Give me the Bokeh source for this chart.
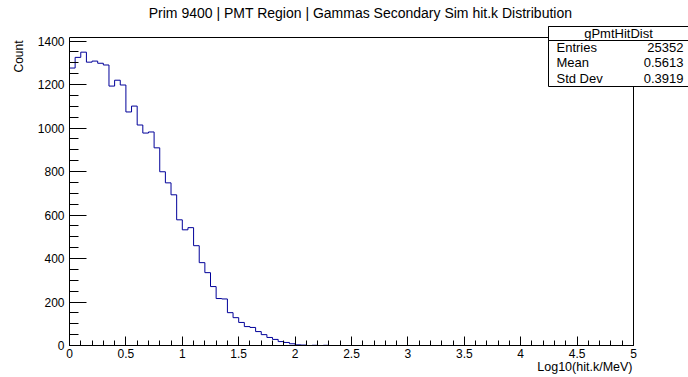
import math
import numpy as np
from bokeh.plotting import figure
from bokeh.models import (Label, BoxAnnotation, SingleIntervalTicker, CustomJSTickFormatter,
                          Range1d, LinearAxis, FixedTicker)
from bokeh.embed import file_html
from bokeh.resources import INLINE

# ---- data ----
title_text = "Prim 9400 | PMT Region | Gammas Secondary Sim hit.k Distribution"
x_label = "Log10(hit.k/MeV)"
y_label = "Count"
hist_name = "gPmtHitDist"
x_min, x_max, n_bins = 0.0, 5.0, 100
counts = [
    1276, 1325, 1349, 1303, 1308, 1298, 1290, 1193, 1220, 1198,
    1074, 1101, 1014, 977, 982, 909, 799, 748, 693, 578,
    532, 542, 459, 381, 335, 271, 216, 214, 151, 128,
    106, 87, 83, 64, 50, 37, 28, 18, 14, 8,
    3, 2, 0, 1, 0, 1, 0, 0, 0, 0,
    0, 0, 0, 0, 0, 0, 0, 0, 0, 0,
    0, 0, 0, 0, 0, 0, 0, 0, 0, 0,
    0, 0, 0, 0, 0, 0, 0, 0, 0, 0,
    0, 0, 0, 0, 0, 0, 0, 0, 0, 0,
    0, 0, 0, 0, 0, 0, 0, 0, 0, 0,
]
stat_names = ["Entries", "Mean", "Std Dev"]
stat_values = ["25352", "0.5613", "0.3919"]

FONT = "Liberation Sans"
W, H = 688, 377
FL, FR, FT, FB = 69, 633, 37, 345  # visible axes box edges in canvas px

edges = np.linspace(x_min, x_max, n_bins + 1)
ymax = max(counts) * 1.05

# the plotting frame covers the whole canvas; axes are pinned at the data edges
xs = (FR - FL) / (x_max - x_min)
ys = (FB - FT) / ymax
x_range = Range1d(x_min - FL / xs, x_max + (W - FR) / xs)
y_range = Range1d(0 - (H - FB) / ys, ymax + FT / ys)

p = figure(width=W, height=H, output_backend="svg", toolbar_location=None,
           x_range=x_range, y_range=y_range,
           x_axis_location=None, y_axis_location=None,
           min_border=0, title=None)
p.background_fill_color = "white"
p.border_fill_color = "white"
p.outline_line_color = None
p.xgrid.visible = False
p.ygrid.visible = False

p.step(x=list(edges), y=counts + [counts[-1]], mode="after",
       line_color="#000099", line_width=1)

fmt = CustomJSTickFormatter(code="return String(Math.round(tick*100)/100);")

xa = LinearAxis(fixed_location=0, bounds=(x_min, x_max),
                ticker=SingleIntervalTicker(interval=0.5, num_minor_ticks=5),
                formatter=fmt)
xa.major_tick_in = 9
xa.major_tick_out = 0
xa.minor_tick_in = 5
xa.minor_tick_out = 0
xa.major_label_standoff = 3
ya = LinearAxis(fixed_location=x_min, bounds=(0, ymax),
                ticker=SingleIntervalTicker(interval=200, num_minor_ticks=4),
                formatter=fmt)
ya.major_tick_in = 17
ya.major_tick_out = 0
ya.minor_tick_in = 9
ya.minor_tick_out = 0
ya.major_label_standoff = 5
for ax in (xa, ya):
    ax.axis_line_color = "black"
    ax.major_tick_line_color = "black"
    ax.minor_tick_line_color = "black"
    ax.major_label_text_font = FONT
    ax.major_label_text_font_size = "12px"
    ax.major_label_text_color = "black"
p.add_layout(xa, "below")
p.add_layout(ya, "left")

# plain top and right edges of the axes box
for loc, side, bnds in ((ymax, "above", (x_min, x_max)), (x_max, "right", (0, ymax))):
    ax = LinearAxis(fixed_location=loc, bounds=bnds, ticker=FixedTicker(ticks=[]))
    ax.axis_line_color = "black"
    ax.major_tick_line_color = None
    ax.minor_tick_line_color = None
    ax.major_label_text_alpha = 0
    p.add_layout(ax, side)

def sx(cx):
    return cx

def sy(cy):
    return H - cy

def lab(text, cx, cy, align="left", size="12px", angle=0.0):
    p.add_layout(Label(x=sx(cx), y=sy(cy), x_units="screen", y_units="screen",
                       text=text, text_align=align, text_baseline="middle",
                       text_font=FONT, text_font_size=size, text_color="black",
                       angle=angle, level="overlay"))

lab(title_text, 360, 12, "center", "14px")
lab(x_label, 632, 366, "right", "12.5px")
lab(y_label, 18, 40, "right", "12px", math.pi / 2)

# stats box
for top, bottom in ((26, 86), (26, 40)):
    p.add_layout(BoxAnnotation(left=sx(548), right=sx(688), top=sy(top), bottom=sy(bottom),
                               left_units="screen", right_units="screen",
                               top_units="screen", bottom_units="screen",
                               fill_color="white", fill_alpha=1.0,
                               line_color="black", line_alpha=1.0, line_width=1,
                               level="overlay"))
lab(hist_name, 618, 33, "center", "13px")
row_y = [47, 62, 78]
for name, val, yy in zip(stat_names, stat_values, row_y):
    lab(name, 556, yy, "left", "13px")
    lab(val, 683, yy, "right", "13px")

open("out.html", "w").write(file_html(p, INLINE))
